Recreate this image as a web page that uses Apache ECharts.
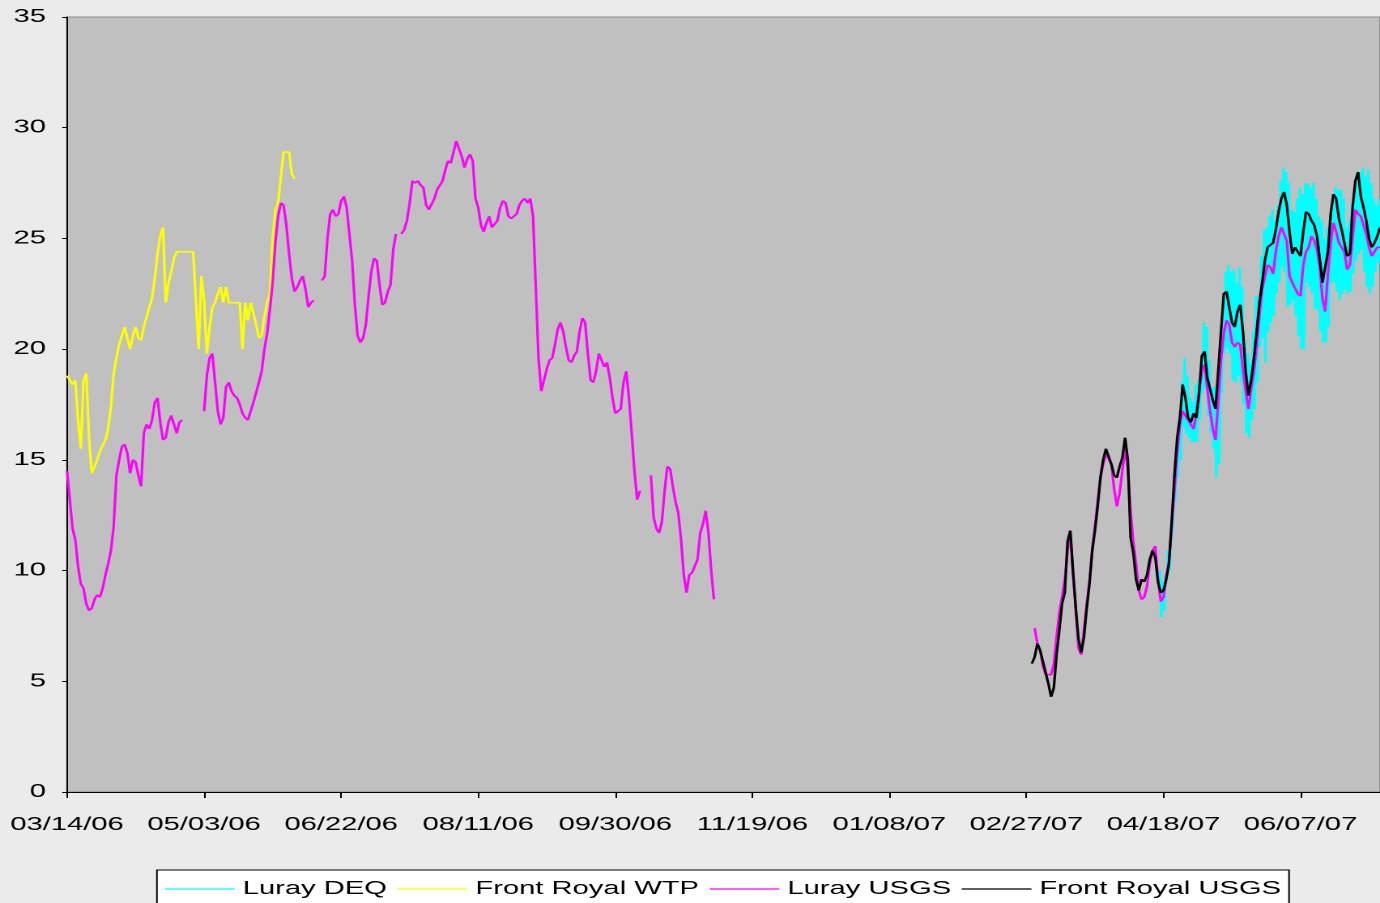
<!DOCTYPE html>
<html><head><meta charset="utf-8">
<script src="https://cdn.jsdelivr.net/npm/echarts@6/dist/echarts.min.js"></script>
<style>
html,body{margin:0;padding:0;background:#ebebeb;overflow:hidden;width:1380px;height:903px}
#wrap{width:1380px;height:903px;overflow:hidden;position:relative}
#chart{width:852px;height:903px;transform:scaleX(1.6197183);transform-origin:0 0;position:absolute;left:0;top:0}
</style></head><body><div id="wrap"><div id="chart"></div></div>
<script>
// Tick labels every 50 days, starting 03/14/06 (day 0)
const tickLabels = ['03/14/06','05/03/06','06/22/06','08/11/06','09/30/06','11/19/06','01/08/07','02/27/07','04/18/07','06/07/07'];
const seriesNames = ['Luray DEQ','Front Royal WTP','Luray USGS','Front Royal USGS'];
const yTicks = [0,5,10,15,20,25,30,35];

// Front Royal WTP, days 0..83
const frontRoyalWTP = [18.8,18.8,18.4,18.6,16.8,15.5,18.6,18.9,16.0,14.4,
14.4,15.0,15.4,15.4,15.9,16.4,17.4,18.9,19.6,20.2,
20.6,21.0,21.0,20.0,20.6,21.0,20.5,20.4,21.0,21.0,
21.9,22.3,23.2,24.3,25.1,25.5,22.1,23.0,23.5,24.1,
24.4,24.4,24.4,24.4,24.4,24.4,24.4,24.4,20.0,23.3,
22.2,19.8,21.0,21.9,22.1,22.5,22.8,22.1,22.8,22.1,
22.1,22.1,22.1,22.1,20.0,22.1,21.3,22.1,22.1,21.1,
20.5,20.6,21.5,22.1,22.5,25.0,26.3,26.6,27.8,28.9,
28.9,28.9,27.9,27.7];

// Luray USGS 2006, days 0..236 (null = missing)
const lurayUSGS2006 = [14.5,13.2,11.9,11.4,10.2,9.4,9.2,8.5,8.2,8.3,
8.7,8.9,8.8,9.2,9.8,10.3,10.9,12.0,14.3,15.0,
15.6,15.7,15.3,14.4,15.0,14.9,14.3,13.8,16.2,16.6,
16.4,16.8,17.6,17.8,16.7,15.9,16.0,16.7,17.0,16.6,
16.2,16.7,16.8,
null,null,null,null,null,null,null,
17.2,18.8,19.6,19.8,18.5,17.2,16.6,16.9,18.3,18.5,
18.1,17.9,17.8,17.5,17.1,16.9,16.8,17.2,17.6,17.6,
18.5,19.0,20.0,20.7,21.8,23.0,24.8,26.0,26.6,26.5,
25.6,24.3,23.2,22.6,22.8,23.1,23.3,22.7,21.9,22.1,
22.2,
null,null,
23.1,23.3,25.0,26.1,26.3,26.0,26.1,26.7,26.9,26.4,
25.2,24.0,22.0,20.6,20.3,20.5,21.1,22.4,23.5,24.1,
24.0,22.9,22.0,22.1,22.6,22.9,24.5,25.2,
null,
25.2,25.4,25.8,26.6,27.6,27.5,27.6,27.4,27.3,26.5,
26.3,26.3,26.8,27.2,27.2,27.6,28.1,28.5,28.4,28.9,
29.4,29.4,28.7,28.2,28.6,28.8,28.5,26.8,26.4,25.6,
25.3,25.7,26.0,25.5,25.5,25.8,26.4,26.7,26.6,26.0,
25.9,25.9,26.1,26.5,26.7,26.8,26.6,26.8,26.0,22.8,
19.6,18.1,18.6,19.1,19.5,19.6,20.2,20.9,21.2,20.8,
20.1,19.5,19.4,19.7,19.9,20.8,21.4,21.2,19.8,18.6,
18.5,19.0,19.8,19.5,19.2,19.4,18.7,17.8,17.1,17.2,
17.3,18.5,19.0,17.8,16.2,14.5,13.2,13.6,
null,null,null,
14.3,12.4,11.9,11.7,12.2,13.6,14.7,14.6,13.8,13.1,
12.6,11.4,9.8,9.0,9.8,9.9,9.9,10.5,11.7,12.1,
12.7,11.7,10.0,8.7];

// Luray USGS 2007, days 353..479
const lurayUSGS2007Start = 353;
const lurayUSGS2007 = [7.4,6.7,6.4,5.7,5.3,5.3,5.3,5.8,7.0,8.1,
8.8,9.6,10.9,11.8,9.8,8.3,6.5,6.2,7.3,8.5,
9.5,10.9,12.0,13.1,14.2,14.8,15.3,15.3,14.8,13.7,
12.9,13.5,14.5,15.5,14.6,12.7,11.3,10.3,9.1,8.7,
8.8,9.3,10.3,10.9,11.1,9.6,8.6,8.8,9.7,10.4,
12.0,13.6,15.3,16.6,17.2,17.2,16.8,16.6,16.4,17.1,
18.1,19.0,19.3,18.2,17.2,16.4,15.9,15.9,19.5,20.7,
21.3,21.1,20.3,20.1,20.3,20.2,19.1,18.1,17.3,18.2,
19.0,20.1,21.5,22.7,23.3,23.8,23.7,23.4,24.4,25.1,
25.5,25.2,24.9,23.3,23.0,23.0,22.5,22.4,23.8,24.4,
24.6,25.1,24.9,24.5,23.7,22.3,21.7,23.4,24.8,25.7,
25.3,24.8,24.6,24.4,23.6,23.8,25.0,26.3,26.1,26.0,
25.6,25.2,24.6,24.2,24.4,24.6,24.6];

// Front Royal USGS, days 352..479
const frontRoyalUSGSStart = 352;
const frontRoyalUSGS = [5.8,6.1,6.7,6.4,5.9,5.4,4.9,4.3,4.7,6.2,
7.3,8.5,9.0,11.3,11.8,10.0,8.3,6.9,6.3,7.0,
8.3,9.4,10.9,11.8,12.9,14.2,15.0,15.5,15.5,14.8,
14.3,14.2,14.7,15.1,16.0,15.0,11.5,10.8,9.6,9.1,
9.6,9.5,9.8,10.5,10.9,10.6,9.5,9.0,9.1,9.6,
10.3,12.2,14.3,16.0,16.9,18.4,17.8,16.9,16.7,17.1,
16.9,18.0,19.7,19.9,18.7,18.2,17.7,17.3,17.3,20.8,
22.5,22.6,21.9,21.2,21.0,21.7,22.0,20.8,19.0,17.9,
18.6,19.6,20.8,22.1,23.0,24.0,24.6,24.7,24.8,25.4,
26.2,26.8,27.1,26.5,25.3,24.3,24.6,24.4,24.2,25.3,
26.2,26.1,25.8,25.6,25.1,24.1,23.0,23.0,24.4,26.1,
27.0,26.8,25.9,25.4,24.8,24.2,24.3,26.4,27.6,28.0,
26.9,26.4,25.8,25.0,24.6,24.8,25.1,25.5];

// Luray DEQ (sub-daily): daily low and high readings, days 398..479
const lurayDEQStart = 398;
const lurayDEQLow = [9.3,7.9,8.2,9.6,10.0,11.8,13.1,14.2,15.0,16.5,
16.2,16.0,15.8,15.8,15.8,16.8,18.0,18.2,17.0,16.2,
15.5,14.2,14.8,18.0,19.8,20.0,19.8,18.6,18.5,18.8,
18.5,17.5,16.2,16.0,16.8,17.3,18.5,20.1,20.5,19.4,
20.8,21.2,21.5,22.5,23.0,23.7,23.5,21.9,22.0,22.2,
21.5,20.6,20.0,20.0,23.0,22.8,22.5,21.8,21.8,20.8,
20.3,20.3,21.0,23.0,23.0,22.6,22.2,22.5,22.7,22.5,
22.6,23.4,24.0,24.3,24.5,23.5,22.8,22.5,22.8,23.5,
23.9,24.0];
const lurayDEQHigh = [10.0,9.5,9.8,10.9,11.5,13.2,14.8,16.8,18.5,19.6,
18.8,17.8,17.6,18.4,18.6,19.5,21.2,21.0,19.5,18.3,
18.3,18.0,18.3,21.8,23.5,23.8,23.5,23.6,23.0,23.7,
22.8,20.4,19.8,19.4,20.8,22.4,22.4,24.2,25.4,25.5,
26.0,26.3,25.8,26.5,27.6,28.2,28.0,27.5,26.3,26.2,
26.8,27.3,27.0,27.5,27.5,27.3,27.5,26.8,26.0,25.8,
25.0,25.5,25.8,27.0,27.3,27.2,27.2,26.8,25.5,25.8,
26.6,27.2,27.6,28.0,28.2,27.8,28.1,27.5,26.8,26.5,
26.8,26.5];

function toPairs(start, values){
  return values.map(function(v,i){ return [start+i, v==null ? '-' : v]; });
}
const deqData = [];
lurayDEQLow.forEach(function(lo,i){
  deqData.push([lurayDEQStart+i+0.25, lo]);
  deqData.push([lurayDEQStart+i+0.75, lurayDEQHigh[i]]);
});
const lurayData = toPairs(0, lurayUSGS2006).concat([[300,'-']], toPairs(lurayUSGS2007Start, lurayUSGS2007));

const FONT = 'Liberation Sans, Arial, sans-serif';
const chart = echarts.init(document.getElementById('chart'), null, {renderer:'canvas', devicePixelRatio:2});
function mk(name, color, data){
  return {name:name, type:'line', data:data, showSymbol:false, symbol:'none', connectNulls:false,
    lineStyle:{color:color, width:1.6}, itemStyle:{color:color}, emphasis:{disabled:true}, animation:false};
}
chart.setOption({
  backgroundColor:'#ebebeb',
  animation:false,
  grid:{left:41.4, right:0, top:17, bottom:111, show:true, backgroundColor:'#c0c0c0', borderColor:'#8c8c8c', borderWidth:1},
  xAxis:{type:'value', min:0, max:479, interval:50,
    axisLine:{show:true, lineStyle:{color:'#000', width:1}},
    axisTick:{show:true, length:6, lineStyle:{color:'#000'}},
    splitLine:{show:false},
    axisLabel:{show:true, margin:24, fontFamily:FONT, fontSize:18, color:'#000', showMaxLabel:false,
      formatter:function(v){ const i=v/50; return Number.isInteger(i) && tickLabels[i] ? tickLabels[i] : ''; }}
  },
  yAxis:{type:'value', min:yTicks[0], max:yTicks[yTicks.length-1], interval:5,
    axisLine:{show:true, lineStyle:{color:'#000', width:1}},
    axisTick:{show:true, length:3, lineStyle:{color:'#000'}},
    splitLine:{show:false},
    axisLabel:{margin:13, fontFamily:FONT, fontSize:18, color:'#000'}
  },
  legend:{data:seriesNames, left:96.9, top:870, icon:'rect', itemWidth:43, itemHeight:1.3, itemGap:6.6,
    padding:[10,5,10,5], backgroundColor:'#fff', borderColor:'#000', borderWidth:1,
    textStyle:{fontFamily:FONT, fontSize:18, color:'#000'}, selectedMode:false},
  series:[
    mk(seriesNames[0], '#00ffff', deqData),
    mk(seriesNames[1], '#ffff00', toPairs(0, frontRoyalWTP)),
    mk(seriesNames[2], '#ff00ff', lurayData),
    mk(seriesNames[3], '#000000', toPairs(frontRoyalUSGSStart, frontRoyalUSGS))
  ]
});
</script></body></html>
